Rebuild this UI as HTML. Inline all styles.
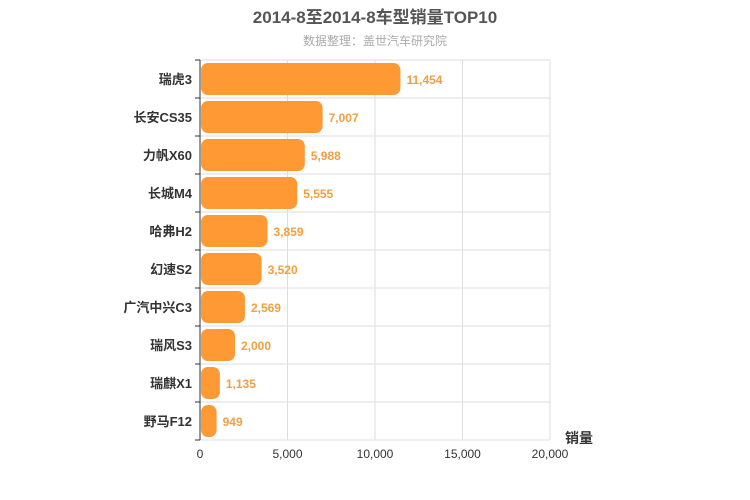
<!DOCTYPE html>
<html><head><meta charset="utf-8"><style>
body{margin:0;background:#fff;}
svg{display:block;font-family:"Liberation Sans","Noto Sans CJK SC",sans-serif;}
</style></head><body>
<svg id="chart" width="750" height="500">
<text x="375" y="23" text-anchor="middle" font-size="17" font-weight="bold" fill="#555">2014-8至2014-8车型销量TOP10</text>
<text x="375" y="45" text-anchor="middle" font-size="12" fill="#aaa">数据整理：盖世汽车研究院</text>
<g id="grid"></g><g id="bars"></g><g id="labels"></g>
<text x="565" y="443" font-size="14" font-weight="bold" fill="#333">销量</text>
</svg>
<script>
const categories=["瑞虎3","长安CS35","力帆X60","长城M4","哈弗H2","幻速S2","广汽中兴C3","瑞风S3","瑞麒X1","野马F12"];
const values=[11454,7007,5988,5555,3859,3520,2569,2000,1135,949];
const ticks=[0,5000,10000,15000,20000];
const tickLabels=["0","5,000","10,000","15,000","20,000"];
const NS="http://www.w3.org/2000/svg";
const x0=200,x1=550,y0=60,y1=440,max=20000;
const xs=v=>x0+(v/max)*(x1-x0);
const band=(y1-y0)/categories.length;
const ys=i=>y0+i*band;
function mk(t,a,p){const e=document.createElementNS(NS,t);for(const k in a)e.setAttribute(k,a[k]);p.appendChild(e);return e;}
const g=document.getElementById('grid'),b=document.getElementById('bars'),l=document.getElementById('labels');
ticks.forEach((t,i)=>{
 const ln=mk('line',{x1:xs(t),x2:xs(t),y1:y0,y2:y1,stroke:'#ddd'},g);
 
 
 const tx=mk('text',{x:xs(t),y:y1+18,'text-anchor':'middle','font-size':12,fill:'#333'},l);
 tx.textContent=tickLabels[i];
 
 
});
for(let i=0;i<=categories.length;i++){
 const ln=mk('line',{x1:x0,x2:x1,y1:ys(i),y2:ys(i),stroke:'#ddd'},g);
 
 
 const tk=mk('line',{x1:x0-5,x2:x0,y1:ys(i),y2:ys(i),stroke:'#333'},g);
 
 
}
const ax=mk('line',{x1:x0,x2:x0,y1:y0,y2:y1,stroke:'#333'},g);


categories.forEach((c,i)=>{
 const y=ys(i)+3,h=band-6,w=xs(values[i])-x0-1;
 const p=mk('rect',{x:x0+1,y:y,width:w,height:h,rx:7,ry:7,fill:'#ff9933'},b);
 
 
 const cl=mk('text',{x:192,y:ys(i)+band/2+5,'text-anchor':'end','font-size':13,'font-weight':'bold',fill:'#333'},l);
 cl.textContent=c;
 
 
 const vl=mk('text',{x:xs(values[i])+6,y:ys(i)+band/2+5,'font-size':12,'font-weight':'bold',fill:'#f0a040'},l);
 vl.textContent=values[i].toLocaleString('en-US');
 
 
});
</script>
</body></html>
